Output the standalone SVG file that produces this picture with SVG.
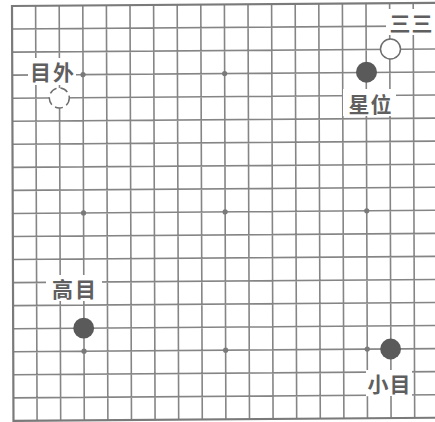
<svg xmlns="http://www.w3.org/2000/svg" width="435" height="422" viewBox="0 0 435 422">
<style>
.ln{stroke:#858585;stroke-width:1.6;fill:none}
.bd{stroke:#7a7a7a;stroke-width:2.2;fill:none}
.hoshi{fill:#7a7a7a}
.blk{fill:#5a5a5a}
.wht{fill:#ffffff;stroke:#6e6e6e;stroke-width:1.5}
.dash{stroke-dasharray:8 4}
.mask{fill:#ffffff}
.lbl{font-family:"Noto Sans CJK SC","Noto Sans CJK JP",sans-serif;font-size:21px;font-weight:bold;fill:#5f5f5f;text-anchor:middle;dominant-baseline:central}
</style>
<rect width="435" height="422" fill="#ffffff"/>
<g id="grid" transform="matrix(1 -0.0075 0.0036 1 -0.022 0.09)">
<path class="ln" d="M35.6 6V420.9M59.2 6V420.9M82.8 6V420.9M106.4 6V420.9M130 6V420.9M153.6 6V420.9M177.2 6V420.9M200.8 6V420.9M224.4 6V420.9M248 6V420.9M271.6 6V420.9M295.2 6V420.9M318.8 6V420.9M342.4 6V420.9M366 6V420.9M389.6 6V420.9M413.2 6V420.9M12 29.05H440M12 52.1H440M12 75.15H440M12 98.2H440M12 121.25H440M12 144.3H440M12 167.35H440M12 190.4H440M12 213.45H440M12 236.5H440M12 259.55H440M12 282.6H440M12 305.65H440M12 328.7H440M12 351.75H440M12 374.8H440M12 397.85H440"/>
<path class="bd" d="M440 6H12V420.9H440"/>
<g class="hoshi">
<circle cx="82.8" cy="75.15" r="2.6"/><circle cx="224.4" cy="75.15" r="2.6"/><circle cx="366" cy="75.15" r="2.6"/>
<circle cx="82.8" cy="213.45" r="2.6"/><circle cx="224.4" cy="213.45" r="2.6"/><circle cx="366" cy="213.45" r="2.6"/>
<circle cx="82.8" cy="351.75" r="2.6"/><circle cx="224.4" cy="351.75" r="2.6"/><circle cx="366" cy="351.75" r="2.6"/>
</g>
</g>
<g id="label-sansan"><rect class="mask" x="386" y="9" width="49" height="26"/><text class="lbl" x="411.5" y="21.5" letter-spacing="1">三三</text></g>
<g id="label-hoshi"><rect class="mask" x="343" y="89" width="53" height="27"/><text class="lbl" x="370.5" y="103" letter-spacing="1">星位</text></g>
<g id="label-mokuhazushi"><rect class="mask" x="28" y="58" width="48" height="27"/><text class="lbl" x="53" y="71" letter-spacing="2">目外</text></g>
<g id="label-takamoku"><rect class="mask" x="46" y="275" width="56" height="26"/><text class="lbl" x="75" y="288" letter-spacing="2">高目</text></g>
<g id="label-komoku"><rect class="mask" x="366" y="370" width="46" height="26"/><text class="lbl" x="389.5" y="383" letter-spacing="1">小目</text></g>
<g id="stone-sansan"><circle class="wht" cx="390.5" cy="49" r="10"/></g>
<g id="stone-hoshi"><circle class="blk" cx="366.5" cy="72.2" r="10.5"/></g>
<g id="stone-mokuhazushi"><circle class="wht dash" cx="59.3" cy="98" r="10"/></g>
<g id="stone-takamoku"><circle class="blk" cx="83.7" cy="328.2" r="10.4"/></g>
<g id="stone-komoku"><circle class="blk" cx="390.6" cy="349" r="10.4"/></g>
</svg>
